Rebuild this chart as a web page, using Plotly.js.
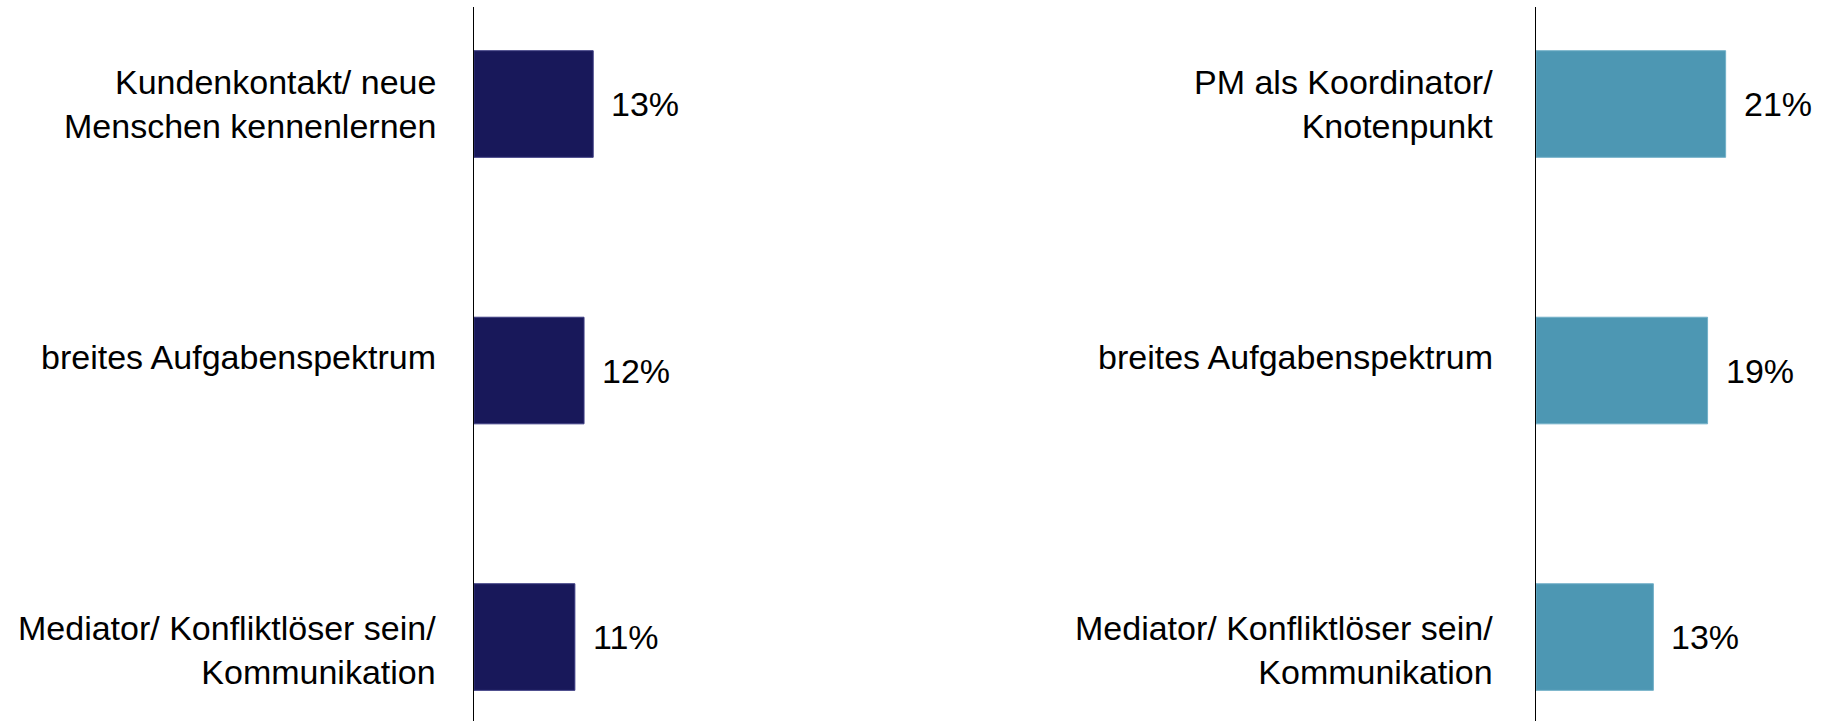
<!DOCTYPE html>
<html>
<head>
<meta charset="utf-8">
<script src="https://cdn.plot.ly/plotly-3.0.1.min.js"></script>
<style>
  html, body { margin: 0; padding: 0; background: #ffffff; }
  #chart { width: 1831px; height: 721px; }
</style>
</head>
<body>
<div id="chart"></div>
<script>
// Left panel data
var leftCategories = [
  "Kundenkontakt/ neue<br>Menschen kennenlernen",
  "breites Aufgabenspektrum",
  "Mediator/ Konfliktlöser sein/<br>Kommunikation"
];
var leftValues = [13, 12, 11];
var leftLabels = ["13%", "12%", "11%"];

// Right panel data
var rightCategories = [
  "PM als Koordinator/<br>Knotenpunkt",
  "breites Aufgabenspektrum",
  "Mediator/ Konfliktlöser sein/<br>Kommunikation"
];
var rightValues = [21, 19, 13];
var rightLabels = ["21%", "19%", "13%"];

var W = 1831;
var FONT = "Liberation Sans, Arial, sans-serif";
// vertical nudge of the category label blocks (style, px)
var labelNudge = [0, 14, -13];

var traces = [
  {
    type: "bar", orientation: "h",
    x: leftValues, y: leftCategories,
    xaxis: "x", yaxis: "y",
    width: 0.4,
    marker: { color: "#18185a", line: { color: "#3c3c82", width: 1 } },
    hoverinfo: "none"
  },
  {
    type: "bar", orientation: "h",
    x: rightValues, y: rightCategories,
    xaxis: "x2", yaxis: "y2",
    width: 0.4,
    marker: { color: "#4d97b3", line: { color: "#72b0c8", width: 1 } },
    hoverinfo: "none"
  }
];

var annotations = [];
function addPanel(cats, vals, labels, xr, yr, catShift) {
  vals.forEach(function (v, i) {
    annotations.push({
      xref: xr, yref: yr, x: v, y: cats[i],
      text: labels[i], showarrow: false,
      xanchor: "left", yanchor: "middle", xshift: 16,
      font: { family: FONT, size: 34, color: "#000000" }
    });
    annotations.push({
      xref: xr, yref: yr, x: 0, y: cats[i],
      text: cats[i], showarrow: false, align: "right",
      xanchor: "right", yanchor: "middle", xshift: catShift, yshift: labelNudge[i],
      font: { family: FONT, size: 34, color: "#000000" }
    });
  });
}
addPanel(leftCategories, leftValues, leftLabels, "x", "y", -36);
addPanel(rightCategories, rightValues, rightLabels, "x2", "y2", -41);

var yCommon = {
  type: "category",
  range: [2.315, -0.364],
  showline: true, linecolor: "#000000", linewidth: 1.5,
  showgrid: false, zeroline: false,
  ticks: "", showticklabels: false,
  fixedrange: true
};
var xCommon = {
  showgrid: false, zeroline: false, showline: false,
  showticklabels: false, ticks: "", fixedrange: true
};

var layout = {
  width: W, height: 721,
  margin: { l: 0, r: 0, t: 7, b: 0, pad: 0 },
  paper_bgcolor: "#ffffff", plot_bgcolor: "#ffffff",
  showlegend: false,
  xaxis: Object.assign({}, xCommon, { domain: [474 / W, 800 / W], range: [0, 326 / 9.17] }),
  xaxis2: Object.assign({}, xCommon, { domain: [1536 / W, 1], range: [0, 295 / 9.03] }),
  yaxis: Object.assign({}, yCommon, { anchor: "x", domain: [0, 1] }),
  yaxis2: Object.assign({}, yCommon, { anchor: "x2", domain: [0, 1] }),
  annotations: annotations
};

Plotly.newPlot("chart", traces, layout, { displayModeBar: false, staticPlot: true });
</script>
</body>
</html>
